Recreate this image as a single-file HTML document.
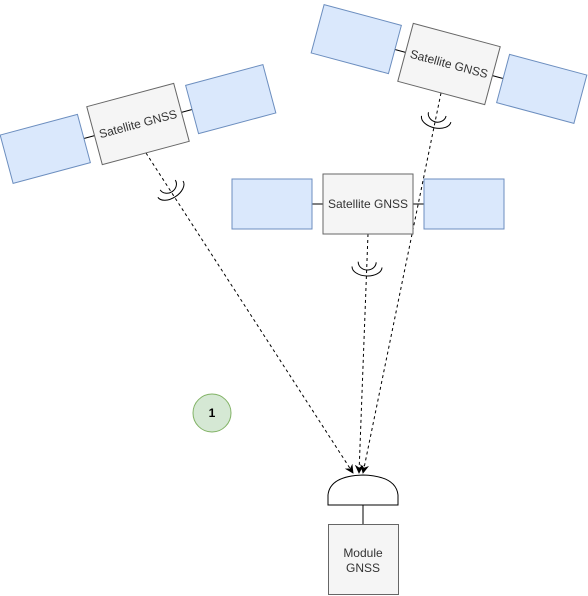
<!DOCTYPE html>
<html><head><meta charset="utf-8"><style>
html,body{margin:0;padding:0;background:#fff;}
svg{display:block;font-family:"Liberation Sans",Helvetica,Arial,sans-serif;}
</style></head><body>
<svg width="588" height="596" viewBox="0 0 588 596" xmlns="http://www.w3.org/2000/svg">
<defs>
<marker id="ah" viewBox="0 0 10 10" refX="9" refY="5" markerWidth="9" markerHeight="9" orient="auto" markerUnits="userSpaceOnUse">
<path d="M0,0 L10,5 L0,10 L3,5 Z" fill="#000"/>
</marker>
<g id="sat">
<line x1="-56" y1="0" x2="-45" y2="0" stroke="#000" stroke-width="1"/>
<line x1="45" y1="0" x2="56" y2="0" stroke="#000" stroke-width="1"/>
<rect x="-136" y="-25" width="80" height="50" fill="#dae8fc" stroke="#6c8ebf"/>
<rect x="56" y="-25" width="80" height="50" fill="#dae8fc" stroke="#6c8ebf"/>
<rect x="-45" y="-30" width="90" height="60" fill="#f5f5f5" stroke="#666"/>
<text x="0" y="4" font-size="12" text-anchor="middle" fill="#333">Satellite GNSS</text>
</g>
<g id="ant" fill="none" stroke="#000" stroke-width="1">
<path d="M-9,-6 A9,8 0 0 0 9,-6"/>
<path d="M-15,-1 A15,9 0 0 0 15,-1"/>
</g>
</defs>

<g stroke="#000" stroke-dasharray="3,3" fill="none" stroke-width="1">
<line x1="146" y1="153" x2="353" y2="473" marker-end="url(#ah)"/>
<line x1="368" y1="234" x2="359" y2="473" marker-end="url(#ah)"/>
<line x1="441" y1="93" x2="363" y2="473" marker-end="url(#ah)"/>
</g>

<g transform="translate(138,124) rotate(-15)"><use href="#sat"/></g>
<g transform="translate(449,64) rotate(15)"><use href="#sat"/></g>
<g transform="translate(368,204)"><use href="#sat"/></g>

<g transform="translate(171,190) rotate(-33)"><use href="#ant"/></g>
<g transform="translate(367,268) rotate(2)"><use href="#ant"/></g>
<g transform="translate(436,120) rotate(12)"><use href="#ant"/></g>

<path d="M328,505 L328,495 Q330,476 363,475 Q396,476 398,495 L398,505 Z" fill="#fff" stroke="#000"/>
<line x1="363" y1="505" x2="363" y2="524" stroke="#000"/>
<rect x="328.5" y="524.5" width="70" height="70" fill="#f5f5f5" stroke="#666"/>
<text x="363" y="557" font-size="12" text-anchor="middle" fill="#333">Module</text>
<text x="363" y="572" font-size="12" text-anchor="middle" fill="#333">GNSS</text>

<circle cx="212" cy="413" r="19" fill="#d5e8d4" stroke="#82b366"/>
<text x="212" y="417" font-size="12" font-weight="bold" text-anchor="middle">1</text>
</svg>
</body></html>
